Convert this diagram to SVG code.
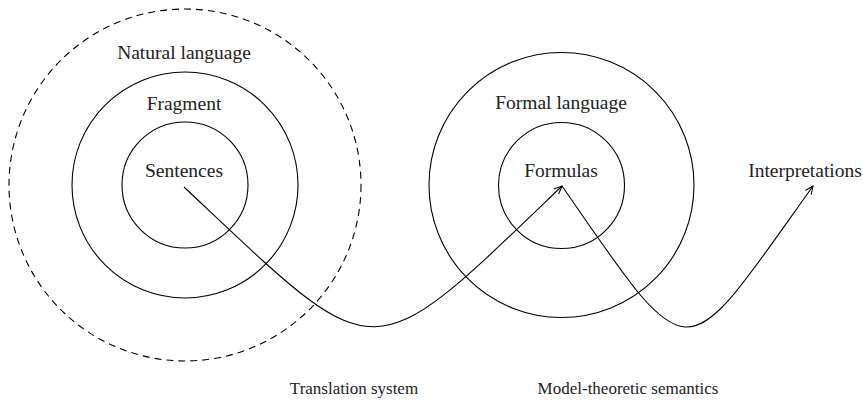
<svg xmlns="http://www.w3.org/2000/svg" width="863" height="400" viewBox="0 0 863 400">
<style>
.c{fill:none;stroke:#000;stroke-width:1.1}
.d{fill:none;stroke:#000;stroke-width:1.1;stroke-dasharray:7 5}
.e{fill:none;stroke:#000;stroke-width:1.1;marker-end:url(#ah)}
text{font-family:"Liberation Serif","Times New Roman",serif;font-size:19.5px;fill:#222;text-anchor:middle}
.s{font-size:17px}
</style>
<defs>
<marker id="ah" markerWidth="12" markerHeight="12" refX="9" refY="5" orient="auto" markerUnits="userSpaceOnUse">
<path d="M1,1.5 L9,5 L1,8.5" fill="none" stroke="#000" stroke-width="1"/>
</marker>
</defs>
<rect width="863" height="400" fill="#fff"/>
<g id="natural-language">
<circle class="d" cx="185" cy="185" r="176"/>
<text x="184" y="59">Natural language</text>
</g>
<g id="fragment">
<circle class="c" cx="185" cy="185" r="113"/>
<text x="184" y="110">Fragment</text>
</g>
<g id="sentences">
<circle class="c" cx="185" cy="185" r="63"/>
<text x="184" y="177">Sentences</text>
</g>
<g id="formal-language">
<circle class="c" cx="561.5" cy="185" r="132.5"/>
<text x="561" y="109">Formal language</text>
</g>
<g id="formulas">
<circle class="c" cx="561.5" cy="185.5" r="63"/>
<text x="561" y="177">Formulas</text>
</g>
<g id="interpretations">
<text x="805" y="177">Interpretations</text>
</g>
<g id="labels">
<text class="s" x="354" y="394">Translation system</text>
<text class="s" x="628" y="394">Model-theoretic semantics</text>
</g>
<g id="connectors">
<path class="e" d="M184,187 C381,372 365,375 562,186"/>
<path class="e" d="M562,186 C694,377 681,371 813,186"/>
</g>
</svg>
